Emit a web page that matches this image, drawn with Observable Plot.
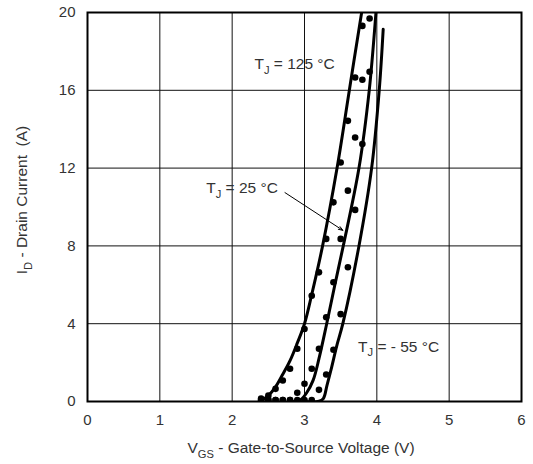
<!DOCTYPE html>
<html><head><meta charset="utf-8">
<script src="https://cdn.jsdelivr.net/npm/d3@7"></script>
<script src="https://cdn.jsdelivr.net/npm/@observablehq/plot@0.6"></script>
<style>
body{margin:0;background:#fff}
svg{font-family:"Liberation Sans",Arial,sans-serif}
svg text{white-space:pre}
</style>
</head><body><div id="chart"></div>
<script>
// ---- data ----
const xTicks = [0, 1, 2, 3, 4, 5, 6];
const yTicks = [0, 4, 8, 12, 16, 20];

// fitted (solid) curves: VGS (V), ID (A)
const t125V = [2.38, 2.50, 2.60, 2.70, 2.80, 2.90, 3.00, 3.10, 3.25, 3.45, 3.62, 3.79, 3.82];
const t125I = [0.00, 0.30, 0.75, 1.40, 2.10, 3.00, 4.00, 5.50, 8.00, 12.0, 16.0, 20.0, 20.6];
const t25V  = [2.85, 2.95, 3.03, 3.12, 3.20, 3.307, 3.42, 3.536, 3.753, 3.895, 3.988, 4.00];
const t25I  = [0.00, 0.10, 0.45, 1.10, 2.20, 4.00, 6.00, 8.00, 12.0, 16.0, 20.0, 20.6];
const tm55V = [3.00, 3.20, 3.26, 3.31, 3.375, 3.445, 3.53, 3.753, 3.928, 4.033, 4.088];
const tm55I = [0.00, 0.02, 0.15, 0.82, 1.76, 2.85, 4.00, 8.00, 12.0, 16.0, 19.14];

// measured (dotted) points, 0.1 V apart
const dotV  = [2.4, 2.5, 2.6, 2.7, 2.8, 2.9, 3.0, 3.1, 3.2, 3.3, 3.4, 3.5, 3.6, 3.7, 3.8, 3.9];
const dot125I = [0.15, 0.30, 0.65, 1.08, 1.68, 2.71, 3.73, 5.44, 6.64, 8.36, 10.24, 12.29, 14.43, 16.66, 19.31];
const dot25I  = [0.08, 0.08, 0.08, 0.08, 0.08, 0.45, 0.91, 1.68, 2.71, 4.33, 6.13, 8.36, 10.84, 13.57, 16.54, 19.69];
const dotm55I = [0.08, 0.08, 0.08, 0.08, 0.08, 0.08, 0.08, 0.08, 0.60, 1.39, 2.66, 4.49, 6.90, 9.85, 13.24, 16.95];

// annotations (data units: centre x, baseline y)
const labelSub  = ["J", "J", "J"];
const labelRest = [" = 125 °C", " = 25 °C", " = - 55 °C"];
const labelX = [2.87, 2.144, 4.308];
const labelY = [17.05, 10.68, 2.53];
const arrowFrom = [2.73, 10.74];
const arrowTo   = [3.53, 8.80];

// ---- build tables ----
const toRows = (V, I, k) => V.map((v, i) => ({v, i: I[i], k})).filter(d => d.i !== undefined);
const curves = [
  ...toRows(t125V, t125I, "125"),
  ...toRows(t25V, t25I, "25"),
  ...toRows(tm55V, tm55I, "-55")
];
const dots = [
  ...toRows(dotV, dot125I, "125"),
  ...toRows(dotV, dot25I, "25"),
  ...toRows(dotV, dotm55I, "-55")
];

const FS = 15.5;
const plot = Plot.plot({
  width: 533,
  height: 464,
  marginLeft: 87,
  marginRight: 12,
  marginTop: 12,
  marginBottom: 63,
  style: {fontFamily: "Liberation Sans, Arial, sans-serif", fontSize: "15px", color: "#222", background: "#fff"},
  x: {domain: [0, 6]},
  y: {domain: [0, 20]},
  marks: [
    Plot.ruleX(xTicks, {stroke: "#111", strokeWidth: 1}),
    Plot.ruleY(yTicks, {stroke: "#111", strokeWidth: 1}),
    Plot.line(curves, {x: "v", y: "i", z: "k", curve: "catmull-rom", stroke: "#000", strokeWidth: 3, clip: true}),
    Plot.dot(dots, {x: "v", y: "i", r: 3.3, fill: "#000", stroke: null, clip: true}),
    Plot.arrow([{x1: arrowFrom[0], y1: arrowFrom[1], x2: arrowTo[0], y2: arrowTo[1]}],
      {x1: "x1", y1: "y1", x2: "x2", y2: "y2", stroke: "#000", strokeWidth: 1, headLength: 7, headAngle: 40}),
    Plot.frame({stroke: "#000", strokeWidth: 2}),
    Plot.axisX(xTicks, {tickSize: 0, tickPadding: 13, fontSize: 15, label: null, fill: "#333"}),
    Plot.axisY(yTicks, {tickSize: 0, tickPadding: 12, fontSize: 15, label: null, fill: "#333"})
  ]
});

document.getElementById("chart").appendChild(plot);

// ---- text with subscripts, placed via the plot's scales ----
const sx = plot.scale("x"), sy = plot.scale("y");
const svg = d3.select(plot);
function subText(g, main, sub, rest, size) {
  g.append("tspan").text(main);
  g.append("tspan").attr("font-size", size * 0.72).attr("dy", size * 0.3).text(sub);
  g.append("tspan").attr("dy", -size * 0.3).text(rest);
}
labelRest.forEach((rest, j) => {
  const t = svg.append("text")
    .attr("x", sx.apply(labelX[j]))
    .attr("y", sy.apply(labelY[j]))
    .attr("text-anchor", "middle")
    .attr("font-size", FS)
    .attr("fill", "#333");
  subText(t, "T", labelSub[j], rest, FS);
});
// x axis title
const xt = svg.append("text")
  .attr("x", 301)
  .attr("y", 453)
  .attr("text-anchor", "middle")
  .attr("font-size", FS)
  .attr("fill", "#333");
subText(xt, "V", "GS", " - Gate-to-Source Voltage (V)", FS);
// y axis title
const yt = svg.append("text")
  .attr("transform", `translate(27,200) rotate(-90)`)
  .attr("text-anchor", "middle")
  .attr("font-size", FS)
  .attr("fill", "#333");
subText(yt, "I", "D", " - Drain Current  (A)", FS);
</script>
</body></html>
